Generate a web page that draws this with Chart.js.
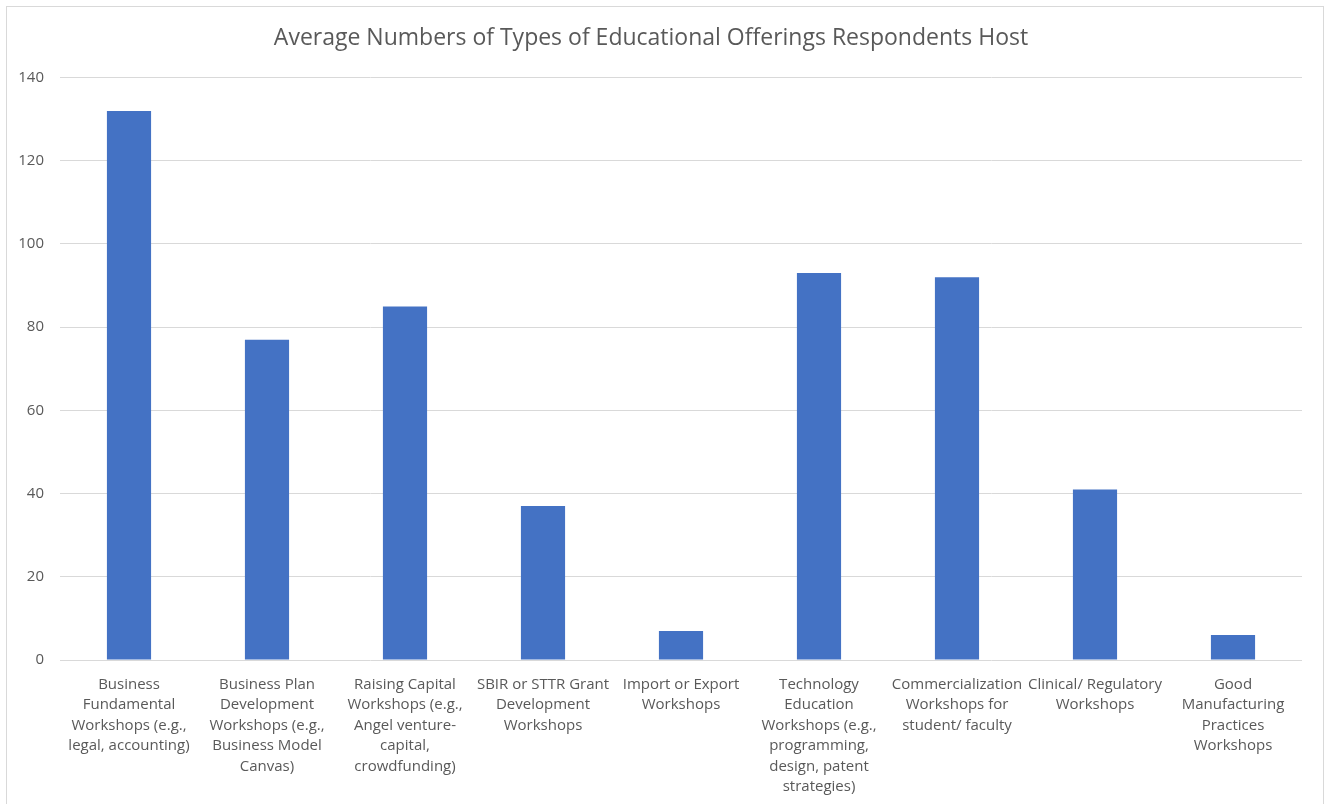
<!DOCTYPE html>
<html>
<head>
<meta charset="utf-8">
<script src="https://cdn.jsdelivr.net/npm/chart.js@4"></script>
<style>
  body { margin: 0; background: #fff; }
  #frame { position: absolute; left: 6px; top: 6px; width: 1316px; height: 820px; border: 1px solid #d9d9d9; }
  #wrap { position: absolute; left: 0; top: 0; width: 1330px; height: 804px; }
</style>
</head>
<body>
<div id="frame"></div>
<div id="wrap"><canvas id="myBarChart"></canvas></div>
<script>
// kategori (label multi-baris seperti di gambar)
const categories = [
    ['Business', 'Fundamental', 'Workshops (e.g.,', 'legal, accounting)'],
    ['Business Plan', 'Development', 'Workshops (e.g.,', 'Business Model', 'Canvas)'],
    ['Raising Capital', 'Workshops (e.g.,', 'Angel venture-', 'capital,', 'crowdfunding)'],
    ['SBIR or STTR Grant', 'Development', 'Workshops'],
    ['Import or Export', 'Workshops'],
    ['Technology', 'Education', 'Workshops (e.g.,', 'programming,', 'design, patent', 'strategies)'],
    ['Commercialization', 'Workshops for', 'student/ faculty'],
    ['Clinical/ Regulatory', 'Workshops'],
    ['Good', 'Manufacturing', 'Practices', 'Workshops']
];
const values = [132, 77, 85, 37, 7, 93, 92, 41, 6];
const yTicks = [0, 20, 40, 60, 80, 100, 120, 140];

const fontFamily = '"Open Sans", "Noto Sans", sans-serif';
const grey = '#595959';

const ctxBar = document.getElementById('myBarChart').getContext('2d');
const myBarChart = new Chart(ctxBar, {
    type: 'bar',
    data: {
        labels: categories,
        datasets: [{
            label: 'Average',
            data: values,
            backgroundColor: '#4472C4',
            borderWidth: 0,
            barPercentage: 0.32,
            categoryPercentage: 1
        }]
    },
    options: {
        responsive: true,
        maintainAspectRatio: false,
        animation: false,
        layout: { padding: { left: 0, right: 28, top: 0, bottom: 0 } },
        plugins: {
            legend: { display: false },
            tooltip: { enabled: false },
            title: {
                display: true,
                text: 'Average Numbers of Types of Educational Offerings Respondents Host',
                color: grey,
                font: { family: fontFamily, size: 23, weight: 'normal' },
                padding: { top: 25, bottom: 25 }
            }
        },
        scales: {
            x: {
                grid: { display: false },
                border: { display: false },
                ticks: {
                    color: grey,
                    font: { family: fontFamily, size: 15, lineHeight: 1.37 },
                    maxRotation: 0,
                    autoSkip: false,
                    padding: 6
                },
                afterFit: function(scale) { scale.height = 144; }
            },
            y: {
                min: 0,
                max: 140,
                afterBuildTicks: function(scale) {
                    scale.ticks = yTicks.map(v => ({ value: v }));
                },
                grid: { color: '#d9d9d9', lineWidth: 1, drawTicks: false },
                border: { display: false },
                ticks: {
                    color: grey,
                    font: { family: fontFamily, size: 15 },
                    padding: 16
                },
                afterFit: function(scale) { scale.width = 60; }
            }
        }
    }
});
</script>
</body>
</html>
